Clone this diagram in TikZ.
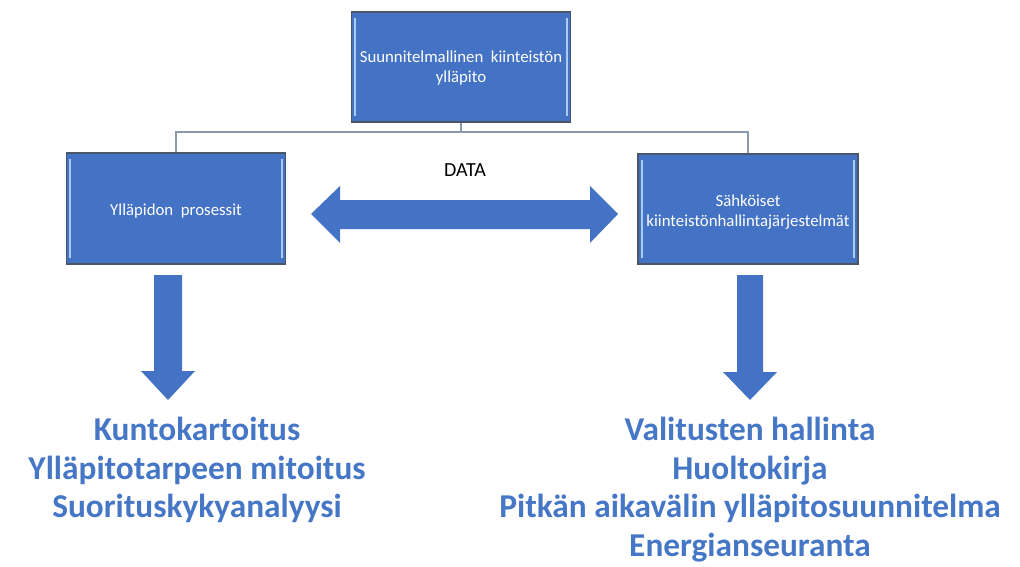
\documentclass[tikz,border=0pt]{standalone}
\usepackage{fontspec}
\setmainfont{Carlito}
\definecolor{boxblue}{HTML}{4472C4}
\definecolor{boxedge}{HTML}{4A5568}
\definecolor{bevel}{HTML}{A9CBEF}
\definecolor{linkgray}{HTML}{8A99AE}
\definecolor{listblue}{HTML}{4677C6}
% box label set with zero height, lowered by #1 from the box centre
\newcommand{\boxlabel}[2]{\smash{\raisebox{-#1}{\begin{tabular}{@{}c@{}}#2\end{tabular}}}}
\begin{document}
\begin{tikzpicture}[x=0.75pt,y=-0.75pt,
  blockbox/.style={draw=boxedge,line width=1.2pt,fill=boxblue,text=white,
    inner sep=0pt,align=center,font=\fontsize{12.6}{15}\selectfont},
  bevelline/.style={bevel,line width=1.6pt},
  link/.style={linkgray,line width=1pt},
  blockarrow/.style={fill=boxblue,draw=none},
  listtext/.style={text=listblue,align=center,inner sep=0pt,
    font=\fontsize{25}{29}\selectfont\bfseries}]
\useasboundingbox (0,0) rectangle (1020,567);

% boxes
\node[blockbox,minimum width=164.25pt,minimum height=82.5pt] (top) at (461,67)
  {\boxlabel{4.2pt}{Suunnitelmallinen\ \ kiinteistön\\ylläpito}};
\node[blockbox,minimum width=164.25pt,minimum height=83.25pt] (left) at (176,208.5)
  {\boxlabel{5.6pt}{Ylläpidon\ \ prosessit}};
\node[blockbox,minimum width=165pt,minimum height=82.5pt] (right) at (748,209)
  {\boxlabel{5.3pt}{Sähköiset\\kiinteistönhallintajärjestelmät}};

% bevel highlights inside the boxes
\foreach \b in {top,left,right}{
  \draw[bevelline] ([xshift=3.5pt,yshift=-5pt]\b.north west) -- ([xshift=3.5pt,yshift=5pt]\b.south west);
  \draw[bevelline] ([xshift=-3.5pt,yshift=-5pt]\b.north east) -- ([xshift=-3.5pt,yshift=5pt]\b.south east);
}

% hierarchy connector
\coordinate (junction) at (461,132);
\draw[link] (top.south) -- (junction);
\draw[link] (left.north) |- (junction) -| (right.north);

% two-way DATA arrow
\fill[blockarrow] (311,214) -- (340,186) -- (340,200) -- (590,200) -- (590,186)
  -- (618,214) -- (590,243) -- (590,229) -- (340,229) -- (340,243) -- cycle;
\node[font=\fontsize{15}{18}\selectfont] (data) at (465,170) {DATA};

% downward arrows
\fill[blockarrow] (154,275) -- (182,275) -- (182,371) -- (195,371) -- (168,400)
  -- (141,371) -- (154,371) -- cycle;
\fill[blockarrow] (737,275) -- (763,275) -- (763,372) -- (777,372) -- (750,400)
  -- (723,372) -- (737,372) -- cycle;

% result lists
\node[listtext,anchor=north] (leftlist) at (197,417)
  {Kuntokartoitus\\Ylläpitotarpeen mitoitus\\Suorituskykyanalyysi};
\node[listtext,anchor=north] (rightlist) at (750,417)
  {Valitusten hallinta\\Huoltokirja\\Pitkän aikavälin ylläpitosuunnitelma\\Energianseuranta};
\end{tikzpicture}
\end{document}
